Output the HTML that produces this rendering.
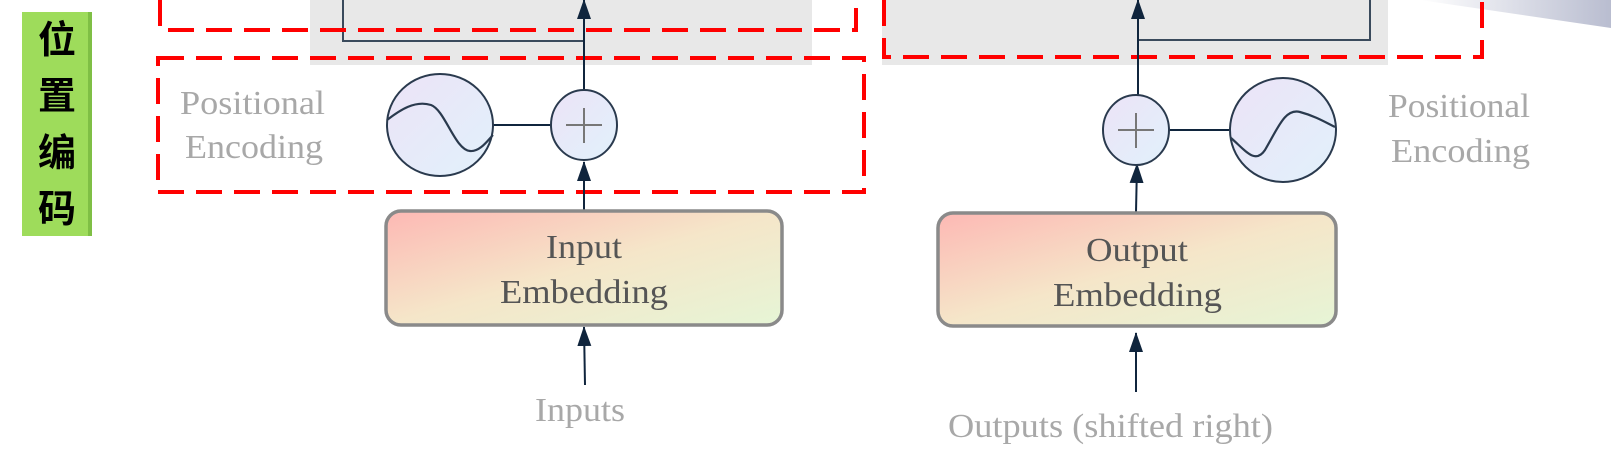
<!DOCTYPE html>
<html><head><meta charset="utf-8"><style>
html,body{margin:0;padding:0;background:#fff;width:1611px;height:476px;overflow:hidden}
svg text{font-family:"Liberation Serif",serif}
</style></head><body>
<svg width="1611" height="476" viewBox="0 0 1611 476" xmlns="http://www.w3.org/2000/svg">
<defs>
<linearGradient id="emb" x1="0" y1="0" x2="1" y2="1">
<stop offset="0" stop-color="#fdb8b4"/><stop offset="0.5" stop-color="#f5e6c9"/><stop offset="1" stop-color="#e6f5d6"/>
</linearGradient>
<linearGradient id="circ" x1="0" y1="0" x2="1" y2="1">
<stop offset="0" stop-color="#ece3f7"/><stop offset="1" stop-color="#e1f1fb"/>
</linearGradient>
<linearGradient id="tr" x1="0" y1="0" x2="1" y2="0">
<stop offset="0" stop-color="#fff"/><stop offset="1" stop-color="#b9bdd0"/>
</linearGradient>
<marker id="ah" markerWidth="20" markerHeight="14" refX="19" refY="7" orient="auto" markerUnits="userSpaceOnUse"><path d="M0,0 L20,7 L0,14 Z" fill="#10253d"/></marker>
</defs>
<polygon points="1420,0 1611,0 1611,28" fill="url(#tr)"/>
<rect x="22" y="12" width="70" height="224" fill="#9edc5b"/>
<rect x="88" y="12" width="4" height="224" fill="#7fbf45"/>
<g font-size="38" font-weight="bold" text-anchor="middle" fill="#000">
<text x="57" y="53" style="font-family:'Noto Sans CJK SC',sans-serif">位</text>
<text x="57" y="109" style="font-family:'Noto Sans CJK SC',sans-serif">置</text>
<text x="57" y="166" style="font-family:'Noto Sans CJK SC',sans-serif">编</text>
<text x="57" y="222" style="font-family:'Noto Sans CJK SC',sans-serif">码</text>
</g>
<rect x="310" y="0" width="502" height="65" fill="#e8e8e8"/>
<rect x="882" y="0" width="506" height="65" fill="#e8e8e8"/>
<g stroke="#3a4a5c" stroke-width="2" fill="none">
<polyline points="343,0 343,41 584,41"/>
<polyline points="1370,0 1370,40 1138,40"/>
</g>
<g stroke="#f00" stroke-width="4" fill="none" stroke-dasharray="26,12">
<polyline points="160,0 160,30 856,30 856,0"/>
<rect x="158" y="58" width="706" height="134"/>
<polyline points="884,0 884,57 1482,57 1482,0"/>
</g>
<g stroke="#10253d" stroke-width="2" fill="none">
<line x1="584" y1="90" x2="584" y2="0" marker-end="url(#ah)"/>
<line x1="584" y1="210" x2="584" y2="162" marker-end="url(#ah)"/>
<line x1="493" y1="125" x2="551" y2="125"/>
<line x1="585" y1="385" x2="584" y2="327" marker-end="url(#ah)"/>
<line x1="1138" y1="95" x2="1138" y2="0" marker-end="url(#ah)"/>
<line x1="1136" y1="212" x2="1137" y2="164" marker-end="url(#ah)"/>
<line x1="1169" y1="130" x2="1229" y2="130"/>
<line x1="1136" y1="392" x2="1136" y2="333" marker-end="url(#ah)"/>
</g>
<g stroke="#2a3a4e" stroke-width="2" fill="url(#circ)">
<ellipse cx="440" cy="125" rx="53" ry="51"/>
<ellipse cx="584" cy="125" rx="33" ry="35"/>
<ellipse cx="1136" cy="130" rx="33" ry="35"/>
<ellipse cx="1283" cy="130" rx="53" ry="52"/>
</g>
<g stroke="#2a3a4e" stroke-width="2.2" fill="none">
<path d="M387,120 C400,110 415,100 431,105 C445,110 455,150 470,151 C480,152 488,140 493,135"/>
<path d="M1231,138 C1245,150 1255,165 1265,150 C1278,128 1285,108 1300,112 C1315,116 1325,122 1335,127"/>
</g>
<g stroke="#777" stroke-width="2">
<line x1="566" y1="125" x2="602" y2="125"/><line x1="584" y1="108" x2="584" y2="143"/>
<line x1="1118" y1="130" x2="1154" y2="130"/><line x1="1136" y1="113" x2="1136" y2="148"/>
</g>
<rect x="386" y="211" width="396" height="114" rx="15" fill="url(#emb)" stroke="#8a8a8a" stroke-width="3.5"/>
<rect x="938" y="213" width="398" height="113" rx="15" fill="url(#emb)" stroke="#8a8a8a" stroke-width="3.5"/>
<g font-size="34" fill="#555">
<text x="546" y="258" textLength="76" lengthAdjust="spacingAndGlyphs">Input</text>
<text x="500" y="303" textLength="168" lengthAdjust="spacingAndGlyphs">Embedding</text>
<text x="1086" y="261" textLength="102" lengthAdjust="spacingAndGlyphs">Output</text>
<text x="1053" y="306" textLength="169" lengthAdjust="spacingAndGlyphs">Embedding</text>
</g>
<g font-size="34" fill="#a8a8a8">
<text x="180" y="114" textLength="145" lengthAdjust="spacingAndGlyphs">Positional</text>
<text x="185" y="158" textLength="138" lengthAdjust="spacingAndGlyphs">Encoding</text>
<text x="1388" y="117" textLength="142" lengthAdjust="spacingAndGlyphs">Positional</text>
<text x="1391" y="162" textLength="139" lengthAdjust="spacingAndGlyphs">Encoding</text>
<text x="535" y="421" textLength="90" lengthAdjust="spacingAndGlyphs">Inputs</text>
<text x="948" y="437" textLength="325" lengthAdjust="spacingAndGlyphs">Outputs (shifted right)</text>
</g>
</svg>
</body></html>
